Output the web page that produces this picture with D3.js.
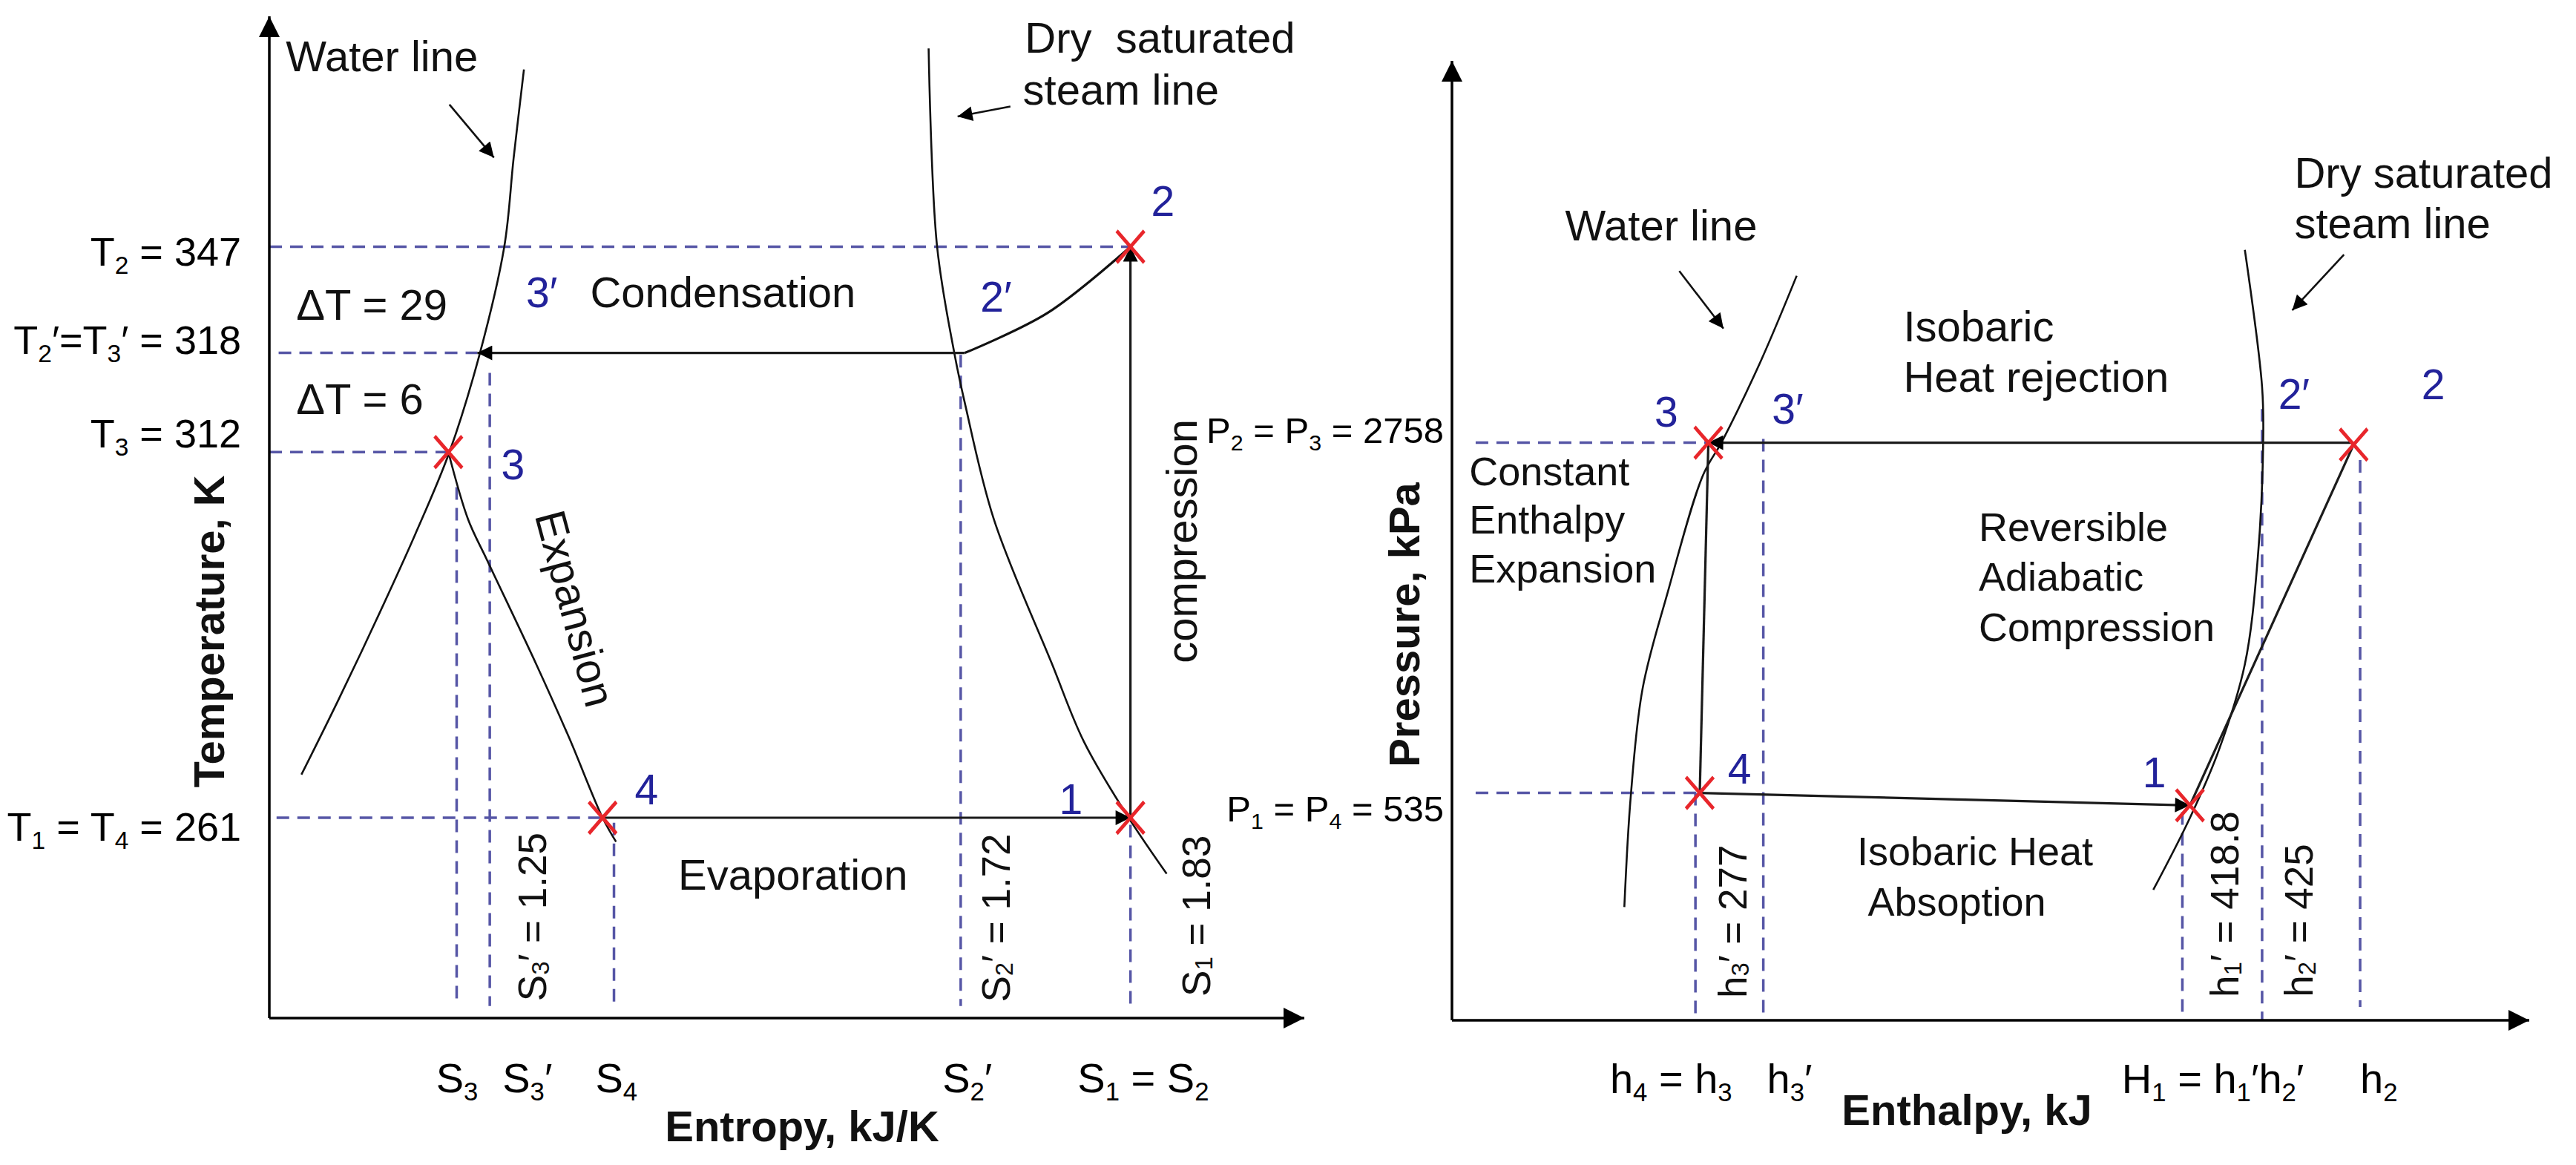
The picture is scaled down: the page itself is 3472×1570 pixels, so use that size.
<!DOCTYPE html>
<html lang="en">
<head>
<meta charset="utf-8">
<title>Refrigeration cycle: T-s and P-h diagrams</title>
<script src="https://cdn.jsdelivr.net/npm/d3@7"></script>
<style>
  body { margin: 0; background: #fff; }
  svg { display: block; font-family: "Liberation Sans", Arial, sans-serif; }
  text { white-space: pre; }
</style>
</head>
<body>
<script>
// Both diagrams are schematic: each axis runs 0..100 in diagram units,
// values below in those units.

// ---- T-s diagram (left)
var tsWater = [[24.6,94.7],[23.6,85.8],[22.7,77.0],[20.3,66.2],[17.4,56.5],[14.1,48.3],[10.5,40.1],[6.6,31.6],[3.1,24.3]];
var tsSteam = [[63.7,96.8],[64.5,77.2],[66.2,66.3],[67.2,61.4],[70.0,49.8],[75.6,35.4],[78.7,27.6],[82.9,20.2],[86.7,14.4]];
var tsExpansion = [[17.3,56.5],[19.2,49.8],[21.0,45.8],[25.8,35.3],[29.0,27.9],[32.2,20.0],[33.5,17.6]];
var tsStates = {'1':[83.2,20.0], '2':[83.2,77.0], '2′':[67.2,66.4], '3′':[20.1,66.4], '3':[17.3,56.5], '4':[32.2,20.0]};
var tsDesuperheat = [[83.2,77.0],[75.2,70.4],[67.2,66.4]];

var tLevels = [77.0, 66.4, 56.5, 20.0];
var tLabels = ['T_2 = 347', 'T_2′=T_3′ = 318', 'T_3 = 312', 'T_1 = T_4 = 261'];
var tGuideStart = [0, 0.9, 0, 0.7];
var tGuideEnd = ['2', '3′', '3', '4'];

var sLines = [18.1, 21.3, 33.3, 66.8, 83.2];
var sLineTops = [53.0, 64.4, 19.5, 66.2, 19.3];
var sTicks = [18.1, 24.9, 33.5, 67.4, 84.4];
var sTickLabels = ['S_3', 'S_3′', 'S_4', 'S_2′', 'S_1 = S_2'];
var sValues = [['S_3′ = 1.25', 25.4, 10.1], ['S_2′ = 1.72', 70.2, 10.0], ['S_1 = 1.83', 89.5, 10.2]];

// ---- P-h diagram (right)
var phWater = [[32.0,77.6],[28.7,68.8],[25.1,60.4],[23.3,56.8],[20.0,44.5],[17.7,34.6],[16.6,23.4],[16.0,11.8]];
var phSteam = [[73.6,80.3],[75.2,66.0],[75.3,60.2],[74.8,48.2],[73.6,37.1],[71.2,28.2],[68.5,21.1],[65.1,13.6]];
var phStates = {'1':[68.5,22.4], '2':[83.7,60.0], '3':[23.8,60.2], '4':[23.0,23.7]};

var pLevels = [60.2, 23.7];
var pLabels = ['P_2 = P_3 = 2758', 'P_1 = P_4 = 535'];
var pGuideEnd = ['3', '4'];

var hLines = [22.6, 28.9, 67.8, 75.2, 84.3];
var hLineTops = [23.7, 60.6, 21.7, 63.7, 58.4];
var hLineBottoms = [0, 0, 0.8, 0, 1.4];
var hTicks = [20.3, 31.3, 70.6, 86.0];
var hTickLabels = ['h_4 = h_3', 'h_3′', 'H_1 = h_1′h_2′', 'h_2'];
var hValues = [['h_3′ = 277', 26.0, 10.3], ['h_1′ = 418.8', 71.7, 12.1], ['h_2′ = 425', 78.6, 10.4]];

var FS = 58, BLUE = '#22229a', RED = '#e8262b', GUIDE = '#5656a6';

var svg = d3.select('body').append('svg').attr('width', 3472).attr('height', 1570);
var defs = svg.append('defs');
function marker(id, w, h) {
  defs.append('marker').attr('id', id).attr('viewBox', '0 0 10 10')
    .attr('refX', 10).attr('refY', 5).attr('markerWidth', w).attr('markerHeight', h)
    .attr('markerUnits', 'userSpaceOnUse').attr('orient', 'auto')
    .append('path').attr('d', 'M0,0L10,5L0,10z').attr('fill', '#000');
}
marker('head', 26, 20);
marker('axisHead', 30, 28);

// text with _x subscripts
function rich(text, str, fs) {
  text.text(null);
  var down = false;
  str.split(/_(.)/).forEach(function(part, i) {
    if (!part) return;
    var t = text.append('tspan').text(part);
    if (i % 2) { t.attr('font-size', fs * 0.62).attr('dy', fs * 0.2); down = true; }
    else if (down) { t.attr('dy', -fs * 0.2); down = false; }
  });
}

function panel(xr, yr) {
  var x = d3.scaleLinear().domain([0, 100]).range(xr);
  var y = d3.scaleLinear().domain([0, 100]).range(yr);
  return { x: x, y: y, g: svg.append('g'),
    line: d3.line().x(function(d){ return x(d[0]); }).y(function(d){ return y(d[1]); }) };
}
var ts = panel([363, 1758], [1372, 22]);
var ph = panel([1957, 3409], [1375, 82]);

function guide(p, segs) {
  p.g.selectAll(null).data(segs).enter().append('path')
    .attr('d', p.line).attr('fill', 'none')
    .attr('stroke', GUIDE).attr('stroke-width', 3.5).attr('stroke-dasharray', '17 11');
}
function curve(p, pts, w) {
  p.g.append('path').datum(pts)
    .attr('d', p.line.curve(d3.curveCatmullRom)).attr('fill', 'none')
    .attr('stroke', '#111').attr('stroke-width', w || 2.6);
  p.line.curve(d3.curveLinear);
}
function stroke(p, pts, arrow) {
  p.g.append('path').datum(pts).attr('d', p.line).attr('fill', 'none')
    .attr('stroke', '#1b1b1b').attr('stroke-width', 3.2)
    .attr('marker-end', arrow ? 'url(#head)' : null);
}
function axes(p) {
  p.g.append('path').datum([[0, 0], [100, 0]]).attr('d', p.line)
    .attr('stroke', '#000').attr('stroke-width', 3.5).attr('marker-end', 'url(#axisHead)');
  p.g.append('path').datum([[0, 0], [0, 100]]).attr('d', p.line)
    .attr('stroke', '#000').attr('stroke-width', 3.5).attr('marker-end', 'url(#axisHead)');
}
function crosses(p, states, keys) {
  var sym = d3.symbol().type(d3.symbolX).size(900);
  p.g.selectAll(null).data(keys).enter().append('path')
    .attr('d', sym)
    .attr('transform', function(k) { return 'translate(' + p.x(states[k][0]) + ',' + p.y(states[k][1]) + ') scale(1,1.15)'; })
    .attr('fill', 'none').attr('stroke', RED).attr('stroke-width', 4.5);
}
// [text, u, v, optional font size]
function notes(p, list, color) {
  p.g.selectAll(null).data(list).enter().append('text')
    .attr('x', function(d) { return p.x(d[1]); }).attr('y', function(d) { return p.y(d[2]); })
    .attr('font-size', function(d) { return d[3] || FS; }).attr('fill', color || '#111')
    .each(function(d) { rich(d3.select(this), d[0], d[3] || FS); });
}
function rotated(p, list, angle, fs) {
  p.g.selectAll(null).data(list).enter().append('text')
    .attr('transform', function(d) { return 'translate(' + p.x(d[1]) + ',' + p.y(d[2]) + ') rotate(' + angle + ')'; })
    .attr('text-anchor', 'middle').attr('dominant-baseline', 'central')
    .attr('font-size', fs).attr('fill', '#111')
    .each(function(d) { rich(d3.select(this), d[0], fs); });
}
function pointer(p, from, to) {
  p.g.append('path').datum([from, to]).attr('d', p.line)
    .attr('stroke', '#111').attr('stroke-width', 2.6).attr('marker-end', 'url(#head)');
}
function tickAxis(p, axis, labels, fs, nudge) {
  var a = p.g.append('g').call(axis);
  a.select('.domain').remove();
  a.attr('font-size', fs).attr('font-family', null);
  a.selectAll('.tick text').each(function(d, i) { rich(d3.select(this), labels[i], fs); })
    .attr('transform', function(d, i) { return nudge ? 'translate(0,' + nudge[i] + ')' : null; });
  return a;
}
function title(p, str, x, y, angle) {
  p.g.append('text').attr('transform', 'translate(' + x + ',' + y + ')' + (angle ? ' rotate(' + angle + ')' : ''))
    .attr('text-anchor', 'middle').attr('dominant-baseline', angle ? 'central' : null)
    .attr('font-size', 58).attr('font-weight', 'bold').attr('fill', '#111').text(str);
}

// ================= T-s =================
guide(ts, tLevels.map(function(t, i) { return [[tGuideStart[i], t], tsStates[tGuideEnd[i]]]; }));
guide(ts, sLines.map(function(s, i) { return [[s, sLineTops[i]], [s, 1.2]]; }));
curve(ts, tsWater);
curve(ts, tsSteam);
curve(ts, tsExpansion);
curve(ts, tsDesuperheat, 3.2);
stroke(ts, [tsStates['4'], tsStates['1']], true);
stroke(ts, [tsStates['1'], tsStates['2']], true);
stroke(ts, [tsStates['2′'], tsStates['3′']], true);
axes(ts);
crosses(ts, tsStates, ['1', '2', '3', '4']);

tickAxis(ts, d3.axisLeft(ts.y).tickValues(tLevels).tickSize(0).tickPadding(38), tLabels, 54, [8, -16, -24, 13])
  .attr('transform', 'translate(' + ts.x(0) + ',0)');
tickAxis(ts, d3.axisBottom(ts.x).tickValues(sTicks).tickSize(0).tickPadding(60), sTickLabels, 56)
  .attr('transform', 'translate(0,' + ts.y(0) + ')');

notes(ts, [['Water line', 1.6, 94.5], ['Dry  saturated', 73.0, 96.4], ['steam line', 72.8, 91.2],
           ['Condensation', 31.0, 71.0], ['Evaporation', 39.5, 12.8],
           ['ΔT = 29', 2.6, 69.7], ['ΔT = 6', 2.6, 60.3]]);
notes(ts, [['2', 85.2, 80.1, 57], ['2′', 68.7, 70.5, 57], ['3′', 24.8, 71.0, 57], ['3', 22.4, 53.8, 57],
           ['4', 35.3, 21.3, 57], ['1', 76.3, 20.4, 57]], BLUE);
pointer(ts, [17.4, 91.2], [21.7, 85.9]);
pointer(ts, [71.6, 91.0], [66.5, 90.0]);
rotated(ts, sValues, -90, 53);
rotated(ts, [['compression', 88.1, 47.6]], -90, 58);
rotated(ts, [['Expansion', 29.6, 40.9]], 75, 58);

title(ts, 'Temperature, K', ts.x(0) - 82, 851, -90);
title(ts, 'Entropy, kJ/K', 1081, 1538);

// ================= P-h =================
guide(ph, pLevels.map(function(pv, i) { return [[2.2, pv], phStates[pGuideEnd[i]]]; }));
guide(ph, hLines.map(function(h, i) { return [[h, hLineTops[i]], [h, hLineBottoms[i]]]; }));
curve(ph, phWater);
curve(ph, phSteam);
stroke(ph, [[phStates['2'][0], phStates['3'][1]], phStates['3']], true);
stroke(ph, [phStates['3'], phStates['4']], false);
stroke(ph, [phStates['4'], phStates['1']], true);
stroke(ph, [phStates['1'], phStates['2']], false);
axes(ph);
crosses(ph, phStates, ['1', '2', '3', '4']);

tickAxis(ph, d3.axisLeft(ph.y).tickValues(pLevels).tickSize(0).tickPadding(11), pLabels, 49, [-16, 22])
  .attr('transform', 'translate(' + ph.x(0) + ',0)');
tickAxis(ph, d3.axisBottom(ph.x).tickValues(hTicks).tickSize(0).tickPadding(58), hTickLabels, 56)
  .attr('transform', 'translate(0,' + ph.y(0) + ')');

notes(ph, [['Water line', 10.5, 81.3], ['Dry saturated', 78.2, 86.8], ['steam line', 78.2, 81.5],
           ['Isobaric', 41.9, 70.8], ['Heat rejection', 41.9, 65.5],
           ['Constant', 1.6, 55.8, 54], ['Enthalpy', 1.6, 50.7, 54], ['Expansion', 1.6, 45.6, 54],
           ['Reversible', 48.9, 50.0, 54], ['Adiabatic', 48.9, 44.8, 54], ['Compression', 48.9, 39.5, 54],
           ['Isobaric Heat', 37.6, 16.2, 54], ['Absoption', 38.6, 10.9, 54]]);
notes(ph, [['3', 18.8, 61.9, 57], ['3′', 29.7, 62.2, 57], ['2′', 76.7, 63.7, 57], ['2', 90.0, 64.7, 57],
           ['4', 25.6, 24.7, 57], ['1', 64.1, 24.3, 57]], BLUE);
pointer(ph, [21.1, 78.1], [25.2, 72.1]);
pointer(ph, [82.8, 79.8], [78.0, 74.0]);
rotated(ph, hValues, -90, 53);

title(ph, 'Pressure, kPa', ph.x(0) - 65, 842, -90);
title(ph, 'Enthalpy, kJ', 2651, 1516);
</script>
</body>
</html>
